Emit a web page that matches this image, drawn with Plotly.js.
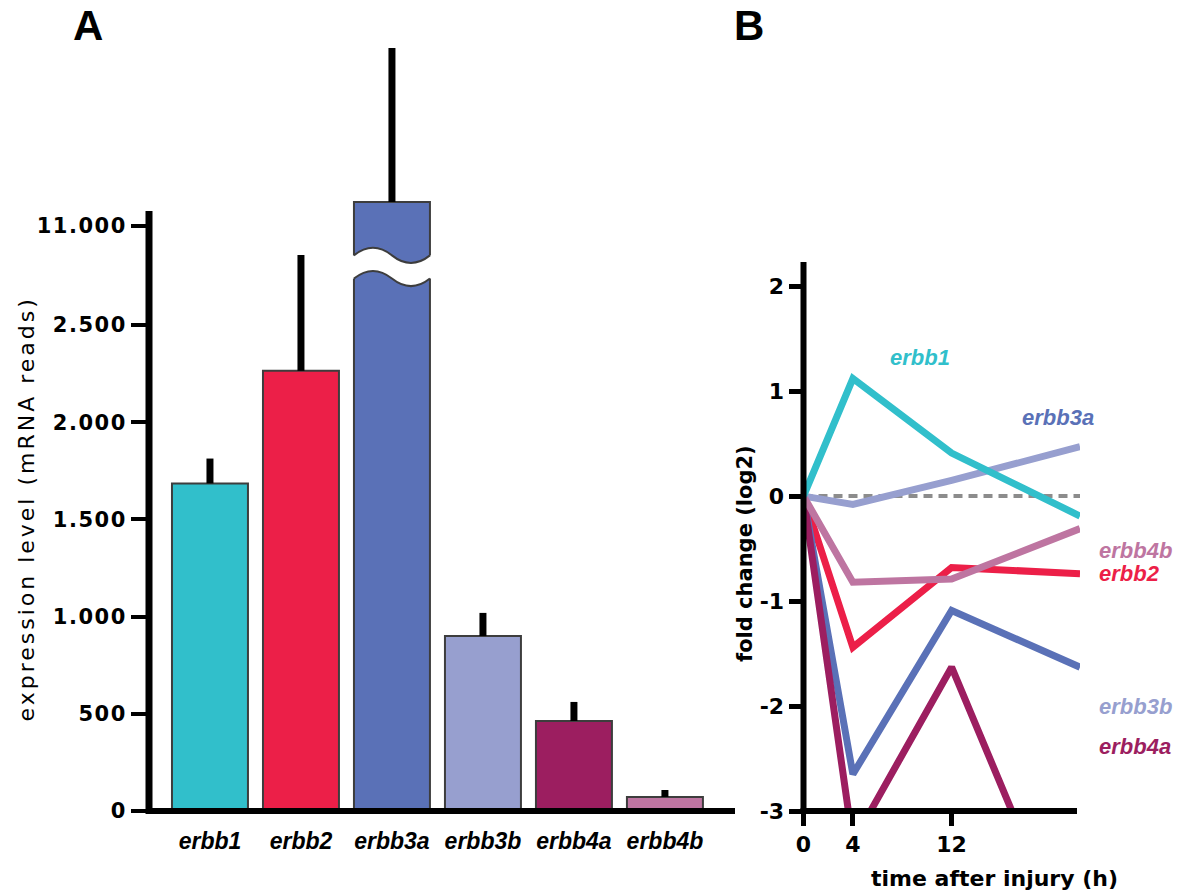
<!DOCTYPE html>
<html>
<head>
<meta charset="utf-8">
<script src="https://cdn.plot.ly/plotly-3.0.1.min.js"></script>
<style>
  body { margin: 0; background: #ffffff; }
  #chart { width: 1183px; height: 892px; }
  .ytick text { letter-spacing: 1.5px; }
  .annotation[data-index="2"] text { letter-spacing: 3px; }
</style>
</head>
<body>
<div id="chart"></div>
<script>
// ---------- Panel A data ----------
const categories = ['erbb1', 'erbb2', 'erbb3a', 'erbb3b', 'erbb4a', 'erbb4b'];
const expression = [1685, 2264, 11123, 900, 463, 72];
const expressionErr = [128, 596, 792, 119, 98, 36];
const barColors = ['#31bfcb', '#ec1f48', '#5a71b7', '#979fcf', '#9c1e60', '#be75a1'];
const yTickValues = [0, 500, 1000, 1500, 2000, 2500, 11000];
const yTickLabels = ['0', '500', '1.000', '1.500', '2.000', '2.500', '11.000'];

// ---------- Panel B data ----------
const timeH = [0, 4, 12, 22.4];
const fcErbb1 = [0, 1.12, 0.41, -0.19];
const fcErbb2 = [0, -1.44, -0.68, -0.74];
const fcErbb3a = [0, -2.65, -1.09, -1.63];
const fcErbb3b = [0, -0.08, 0.15, 0.47];
const fcErbb4a = [0, -3.3, -1.63, -4.55];
const fcErbb4b = [0, -0.82, -0.79, -0.31];
const zeroRef = [0, 0];
const zeroRefX = [0, 22.4];
const xTickValsB = [0, 4, 12];
const yTickValsB = [-3, -2, -1, 0, 1, 2];
const yTickTextB = ['-3', '-2', '-1', '0', '1', '2'];

// broken axis: values from 11000 up are drawn just above the 2500 segment
function brk(v) { return v >= 5000 ? 3010 + (v - 11000) : v; }

const W = 1183, H = 892;
const px = x => x / W;
const py = y => 1 - y / H;

const xIdx = categories.map((_, i) => i);
const yDisp = expression.map(brk);
const errDisp = expression.map((v, i) => brk(v + expressionErr[i]) - brk(v));
const errMinus = expression.map(() => 0);

const barW = 0.835;

const traces = [
  {
    type: 'bar', x: xIdx, y: yDisp, width: barW,
    xaxis: 'x', yaxis: 'y',
    marker: { color: barColors, line: { color: '#3d3d3d', width: 2 } },
    error_y: { type: 'data', symmetric: false, array: errDisp, arrayminus: errMinus,
               color: '#000000', thickness: 7, width: 0 },
    hoverinfo: 'skip'
  },
  { type: 'scatter', mode: 'lines', x: zeroRefX, y: zeroRef, xaxis: 'x2', yaxis: 'y2',
    line: { color: '#8c8c8c', width: 4, dash: '9px,6px' }, hoverinfo: 'skip' }
];

const series = [
  { y: fcErbb2, c: '#ec1f48' },
  { y: fcErbb3a, c: '#5a71b7' },
  { y: fcErbb4a, c: '#9c1e60' },
  { y: fcErbb3b, c: '#979fcf' },
  { y: fcErbb4b, c: '#be75a1' },
  { y: fcErbb1, c: '#31bfcb' }
];
series.forEach(s => traces.push({
  type: 'scatter', mode: 'lines', x: timeH, y: s.y, xaxis: 'x2', yaxis: 'y2',
  line: { color: s.c, width: 7 }, hoverinfo: 'skip'
}));

// wave break across the tall bar
const bi = 2;
const xl = xIdx[bi] - barW / 2, xr = xIdx[bi] + barW / 2, xm = xIdx[bi];
const L = (xr - xl) / 2;
const yu = 2858, yl = 2739, hh = 52, e = 0.03;
const upper = `M${xl},${yu} C${xl + L / 3},${yu + hh} ${xl + 2 * L / 3},${yu + hh} ${xm},${yu} C${xm + L / 3},${yu - hh} ${xm + 2 * L / 3},${yu - hh} ${xr},${yu}`;
const lower = `M${xl},${yl} C${xl + L / 3},${yl + hh} ${xl + 2 * L / 3},${yl + hh} ${xm},${yl} C${xm + L / 3},${yl - hh} ${xm + 2 * L / 3},${yl - hh} ${xr},${yl}`;
const fillPath = `M${xl - e},${yu} L${xl},${yu} C${xl + L / 3},${yu + hh} ${xl + 2 * L / 3},${yu + hh} ${xm},${yu} C${xm + L / 3},${yu - hh} ${xm + 2 * L / 3},${yu - hh} ${xr},${yu} L${xr + e},${yu} L${xr + e},${yl} L${xr},${yl} C${xr - L / 3},${yl - hh} ${xr - 2 * L / 3},${yl - hh} ${xm},${yl} C${xm - L / 3},${yl + hh} ${xm - 2 * L / 3},${yl + hh} ${xl},${yl} L${xl - e},${yl} Z`;

const shapes = [
  { type: 'path', xref: 'x', yref: 'y', path: fillPath, fillcolor: '#ffffff', line: { width: 0 }, layer: 'above' },
  { type: 'path', xref: 'x', yref: 'y', path: upper, line: { color: '#3d3d3d', width: 2 }, layer: 'above' },
  { type: 'path', xref: 'x', yref: 'y', path: lower, line: { color: '#3d3d3d', width: 2 }, layer: 'above' },
  // axis lines
  { type: 'line', xref: 'paper', yref: 'paper', x0: px(149), x1: px(149), y0: py(814), y1: py(211), line: { color: '#000', width: 7 } },
  { type: 'line', xref: 'paper', yref: 'paper', x0: px(146), x1: px(735), y0: py(811), y1: py(811), line: { color: '#000', width: 6 } },
  { type: 'line', xref: 'paper', yref: 'paper', x0: px(803.5), x1: px(803.5), y0: py(814), y1: py(262), line: { color: '#000', width: 6 } },
  { type: 'line', xref: 'paper', yref: 'paper', x0: px(800.5), x1: px(1077), y0: py(811), y1: py(811), line: { color: '#000', width: 6 } }
];

const lblFont = (c) => ({ family: 'Liberation Sans, Arial, sans-serif', size: 22, weight: 'bold', style: 'italic', color: c });
const ann = (text, x, y, font, extra) => Object.assign({
  text, xref: 'paper', yref: 'paper', x: px(x), y: py(y), xanchor: 'center', yanchor: 'middle',
  showarrow: false, font
}, extra || {});

const annotations = [
  ann('A', 88, 26, { family: 'Liberation Sans, Arial, sans-serif', size: 42, weight: 'bold', color: '#000' }),
  ann('B', 749, 26, { family: 'Liberation Sans, Arial, sans-serif', size: 42, weight: 'bold', color: '#000' }),
  ann('expression level (mRNA reads)', 26, 509, { family: 'DejaVu Sans, sans-serif', size: 22, color: '#000' }, { textangle: -90 }),
  ann('fold change (log2)', 745, 553, { family: 'DejaVu Sans, sans-serif', size: 21, weight: 'bold', color: '#000' }, { textangle: -90 }),
  ann('time after injury (h)', 995, 878, { family: 'DejaVu Sans, sans-serif', size: 22, weight: 'bold', color: '#000' }),
  ann('erbb1', 920, 357, lblFont('#31bfcb')),
  ann('erbb3a', 1058, 417, lblFont('#5a71b7')),
  ann('erbb4b', 1097, 550, lblFont('#be75a1'), { xanchor: 'left' }),
  ann('erbb2', 1097, 573, lblFont('#ec1f48'), { xanchor: 'left' }),
  ann('erbb3b', 1097, 706, lblFont('#979fcf'), { xanchor: 'left' }),
  ann('erbb4a', 1097, 746, lblFont('#9c1e60'), { xanchor: 'left' })
];

const tickFontBold = { family: 'DejaVu Sans, sans-serif', size: 21, weight: 'bold', color: '#000' };

const layout = {
  width: W, height: H,
  margin: { l: 0, r: 0, t: 0, b: 0, pad: 0 },
  paper_bgcolor: '#ffffff', plot_bgcolor: 'rgba(0,0,0,0)',
  showlegend: false,
  xaxis: {
    domain: [px(149), px(735)], range: [-0.67, 5.77], anchor: 'y',
    tickvals: xIdx, ticktext: categories, ticks: '', showline: false, showgrid: false, zeroline: false,
    ticklabelstandoff: 14,
    tickfont: { family: 'Liberation Sans, Arial, sans-serif', size: 23, weight: 'bold', style: 'italic', color: '#000' },
    fixedrange: true
  },
  yaxis: {
    domain: [py(811), py(40)], range: [0, 3966], anchor: 'x',
    tickvals: yTickValues.map(brk), ticktext: yTickLabels,
    ticks: 'outside', ticklen: 17, tickwidth: 4, tickcolor: '#000',
    showline: false, showgrid: false, zeroline: false, tickfont: tickFontBold, fixedrange: true
  },
  xaxis2: {
    domain: [px(803.5), px(1080)], range: [0, 22.4], anchor: 'y2',
    tickvals: xTickValsB, ticktext: xTickValsB.map(String),
    ticks: 'outside', ticklen: 14, tickwidth: 5, tickcolor: '#000',
    ticklabelstandoff: 0.5,
    showline: false, showgrid: false, zeroline: false,
    tickfont: { family: 'DejaVu Sans, sans-serif', size: 22, weight: 'bold', color: '#000' }, fixedrange: true
  },
  yaxis2: {
    domain: [py(811), py(262)], range: [-3, 2.23], anchor: 'x2',
    tickvals: yTickValsB, ticktext: yTickTextB,
    ticks: 'outside', ticklen: 14, tickwidth: 5, tickcolor: '#000',
    showline: false, showgrid: false, zeroline: false,
    tickfont: { family: 'DejaVu Sans, sans-serif', size: 22, weight: 'bold', color: '#000' }, fixedrange: true
  },
  shapes: shapes,
  annotations: annotations
};

Plotly.newPlot('chart', traces, layout, { displayModeBar: false, staticPlot: true });
</script>
</body>
</html>
